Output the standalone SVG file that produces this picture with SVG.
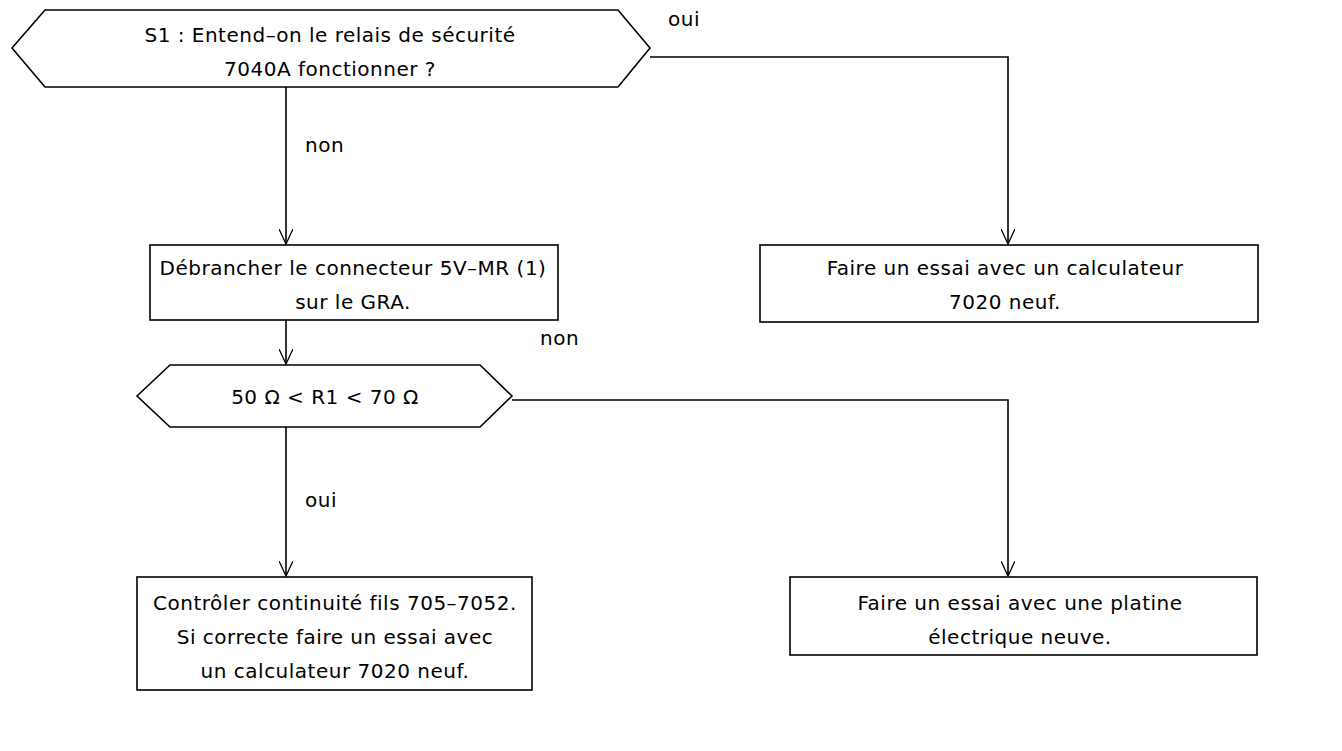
<svg xmlns="http://www.w3.org/2000/svg" width="1342" height="751" viewBox="0 0 1342 751">
<defs><marker id="a" markerWidth="16" markerHeight="14" refX="15" refY="7" orient="auto" markerUnits="userSpaceOnUse" viewBox="0 0 16 14"><path d="M0,0 L15,7 L0,14" fill="none" stroke="#000" stroke-width="1.3"/></marker></defs>
<style>.s{fill:#fff;stroke:#000;stroke-width:1.6}.t{font-family:"DejaVu Sans",sans-serif;font-size:20px;fill:#000;text-anchor:middle;letter-spacing:0.5px}.l{font-family:"DejaVu Sans",sans-serif;font-size:20px;fill:#000;letter-spacing:0.5px}.c{fill:none;stroke:#000;stroke-width:1.6}</style>
<rect width="1342" height="751" fill="#fff"/>
<g id="connectors">
<path class="c" d="M650,57 H1008 V244" marker-end="url(#a)"/>
<path class="c" d="M286,87 V244" marker-end="url(#a)"/>
<path class="c" d="M286,320 V364" marker-end="url(#a)"/>
<path class="c" d="M512,400 H1008 V576" marker-end="url(#a)"/>
<path class="c" d="M286,427 V576" marker-end="url(#a)"/>
<text class="l" x="668" y="26">oui</text>
<text class="l" x="305" y="152">non</text>
<text class="l" x="540" y="345">non</text>
<text class="l" x="305" y="507">oui</text>
</g>
<g id="s1"><polygon class="s" points="12,48 45,10 618,10 650,48 618,87 45,87"/>
<text class="t" x="330" y="42">S1 : Entend–on le relais de sécurité</text><text class="t" x="330" y="76">7040A fonctionner ?</text></g>
<g id="b1"><rect class="s" x="150" y="245" width="408" height="75"/>
<text class="t" x="353" y="275">Débrancher le connecteur 5V–MR (1)</text><text class="t" x="353" y="309">sur le GRA.</text></g>
<g id="b2"><rect class="s" x="760" y="245" width="498" height="77"/>
<text class="t" x="1005" y="275">Faire un essai avec un calculateur</text><text class="t" x="1005" y="309">7020 neuf.</text></g>
<g id="s2"><polygon class="s" points="137,396 170,365 480,365 512,396 480,427 170,427"/>
<text class="t" x="325" y="404">50 Ω &lt; R1 &lt; 70 Ω</text></g>
<g id="b3"><rect class="s" x="137" y="577" width="395" height="113"/>
<text class="t" x="335" y="610">Contrôler continuité fils 705–7052.</text><text class="t" x="335" y="644">Si correcte faire un essai avec</text><text class="t" x="335" y="678">un calculateur 7020 neuf.</text></g>
<g id="b4"><rect class="s" x="790" y="577" width="467" height="78"/>
<text class="t" x="1020" y="610">Faire un essai avec une platine</text><text class="t" x="1020" y="644">électrique neuve.</text></g>
</svg>
